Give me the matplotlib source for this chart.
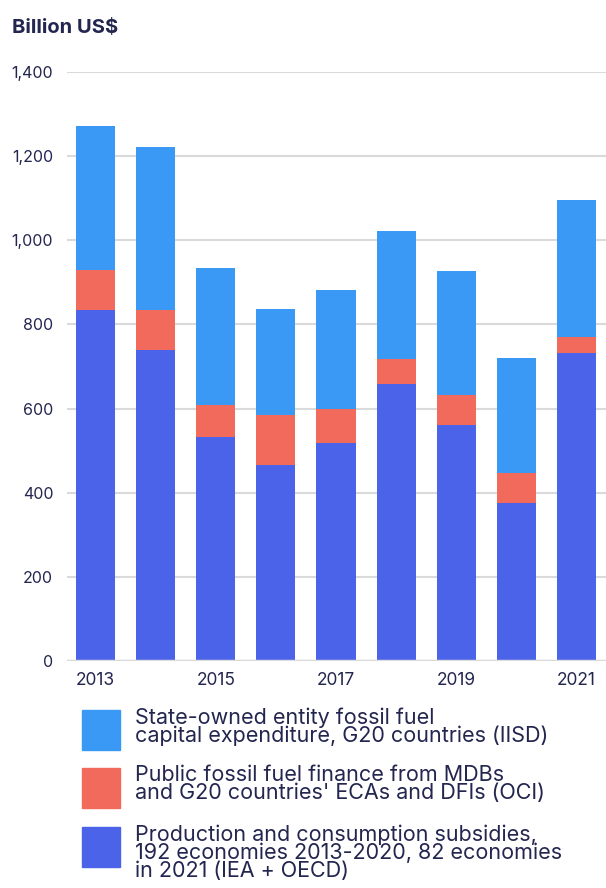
import matplotlib
matplotlib.use('Agg')
import matplotlib.pyplot as plt
from matplotlib.patches import Rectangle
import numpy as np

plt.rcParams['font.family'] = ['Inter', 'DejaVu Sans']

# ─── Data (billion US$) ─────────────────────────────
years = [2013, 2014, 2015, 2016, 2017, 2018, 2019, 2020, 2021]
subsidies = [834, 739, 532, 466, 518, 658, 561, 376, 732]
public_finance = [95, 95, 77, 119, 81, 60, 71, 71, 38]
soe_capex = [343, 388, 325, 252, 283, 304, 295, 273, 326]

labels = ['State-owned entity fossil fuel\ncapital expenditure, G20 countries (IISD)',
          "Public fossil fuel finance from MDBs\nand G20 countries' ECAs and DFIs (OCI)",
          'Production and consumption subsidies,\n192 economies 2013-2020, 82 economies\nin 2021 (IEA + OECD)']

# ─── Colours ───────────────────────────────────────
C_SOE = '#3A99F5'
C_PUB = '#F26A5B'
C_SUB = '#4B63E8'
TXT = '#23264F'
GRID = '#DADADA'

fig = plt.figure(figsize=(6.06, 8.88), dpi=100)
ax = fig.add_axes([0.1106, 0.2556, 0.8894, 0.6633])

x = np.arange(len(years))
sub = np.array(subsidies)
pub = np.array(public_finance)
soe = np.array(soe_capex)
w = 0.65
ax.bar(x, sub, w, color=C_SUB, zorder=2)
ax.bar(x, pub, w, bottom=sub, color=C_PUB, zorder=2)
ax.bar(x, soe, w, bottom=sub + pub, color=C_SOE, zorder=2)

ax.set_ylim(0, 1400)
ax.set_xlim(-0.474, 8.49)
ax.set_yticks(np.arange(0, 1401, 200))
ax.set_yticklabels([f'{v:,}' for v in range(0, 1401, 200)])
ax.yaxis.grid(True, color=GRID, lw=1.5, zorder=0)
ax.set_axisbelow(True)
ax.axhline(0, color=GRID, lw=2.5, zorder=3)

ax.set_xticks(x[::2])
ax.set_xticklabels([str(y) for y in years[::2]])

for s in ax.spines.values():
    s.set_visible(False)
ax.tick_params(axis='both', length=0, colors=TXT)
ax.tick_params(axis='y', pad=10, labelsize=11.5)
ax.tick_params(axis='x', pad=8, labelsize=12.5)

fig.text(12 / 606, 1 - 28 / 888, 'Billion US$', fontsize=14.5, fontweight='bold',
         color=TXT, ha='left', va='center')

# ─── Legend (manual) ───────────────────────────────
tops = [710, 768, 827]
for top, col, lab in zip(tops, [C_SOE, C_PUB, C_SUB], labels):
    fig.patches.append(Rectangle((82 / 606, 1 - (top + 40) / 888), 38 / 606, 40 / 888,
                                 transform=fig.transFigure, color=col))
    fig.text(135 / 606, 1 - (top - 3) / 888, lab, fontsize=15.5, color=TXT,
             ha='left', va='top', linespacing=0.88)

plt.savefig('out.png', dpi=100, facecolor='white')
